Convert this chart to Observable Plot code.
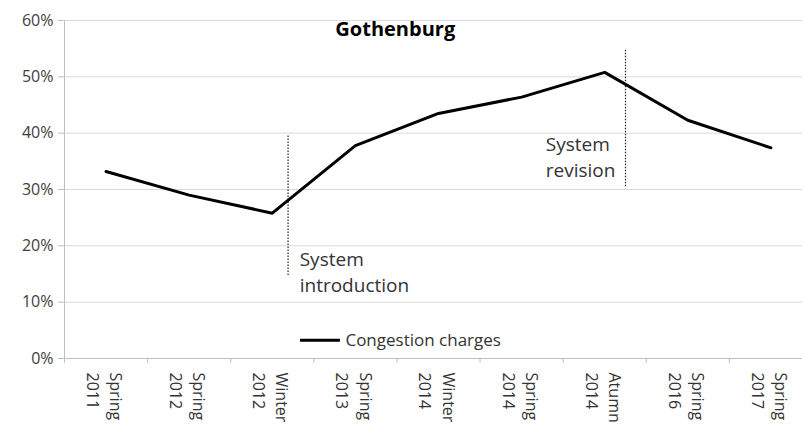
<!DOCTYPE html>
<html>
<head>
<meta charset="utf-8">
<script src="https://cdn.jsdelivr.net/npm/d3@7"></script>
<script src="https://cdn.jsdelivr.net/npm/@observablehq/plot@0.6"></script>
<style>
  html, body { margin: 0; padding: 0; background: #fff; }
  #chart svg { display: block; }
</style>
</head>
<body>
<div id="chart"></div>
<script>
// Data
const seasons = ["Spring", "Spring", "Winter", "Spring", "Winter", "Spring", "Atumn", "Spring", "Spring"];
const years   = ["2011", "2012", "2012", "2013", "2014", "2014", "2014", "2016", "2017"];
const congestionCharges = [0.332, 0.290, 0.258, 0.378, 0.435, 0.464, 0.508, 0.423, 0.374];
const yTicks = [0, 0.1, 0.2, 0.3, 0.4, 0.5, 0.6];
const chartTitle = "Gothenburg";
const seriesName = "Congestion charges";

const periods = seasons.map((s, i) => ({i, label: s + "\n" + years[i], value: congestionCharges[i]}));
const boundaries = d3.range(-0.5, periods.length, 1);

// Annotations (event markers between survey periods)
const events = [
  {x: 2.19, y1: 0.395, y2: 0.147, label: "System\nintroduction", tx: 2.33, ty: 0.197},
  {x: 6.25, y1: 0.547, y2: 0.302, label: "System\nrevision", tx: 5.29, ty: 0.402}
];

const font = "'Open Sans', sans-serif";

const chart = Plot.plot({
  width: 802,
  height: 425,
  marginTop: 20,
  marginBottom: 67,
  marginLeft: 64,
  marginRight: 0,
  style: {fontFamily: font, background: "#fff", color: "#404040"},
  x: {type: "linear", domain: [-0.5, periods.length - 0.5], range: [64, 812], axis: null},
  y: {domain: [0, 0.6], axis: null},
  marks: [
    Plot.gridY(yTicks, {stroke: "#d9d9d9", strokeOpacity: 1, strokeWidth: 1}),
    Plot.ruleY([0], {stroke: "#bfbfbf", strokeWidth: 1}),
    Plot.ruleX([-0.5], {y1: 0.6, y2: 0, stroke: "#bfbfbf", strokeWidth: 1, insetBottom: -5}),
    Plot.axisY(yTicks, {
      tickFormat: d3.format(".0%"), tickSize: 6, tickPadding: 5,
      stroke: "#bfbfbf", fill: "#404040", fontSize: 16, anchor: "left"
    }),
    Plot.axisX(boundaries, {tickFormat: () => "", tickSize: 5, stroke: "#bfbfbf", anchor: "bottom"}),
    Plot.text(periods, {
      x: "i", y: () => 0, text: "label", rotate: 90, textAnchor: "start",
      lineAnchor: "middle", lineHeight: 1.45, dy: 14, fontSize: 16, fill: "#333"
    }),
    Plot.ruleX(events, {x: "x", y1: "y1", y2: "y2", stroke: "#222", strokeWidth: 1.2, strokeDasharray: "1.5,1.5"}),
    Plot.text(events, {
      x: "tx", y: "ty", text: "label", textAnchor: "start",
      lineAnchor: "top", lineHeight: 1.38, fontSize: 19, fill: "#333"
    }),
    Plot.line(periods, {x: "i", y: "value", stroke: "#000", strokeWidth: 3, strokeLinejoin: "round"}),
    Plot.text([chartTitle], {x: () => 3.48, y: () => 0.583, text: d => d, fontSize: 20, fontWeight: "bold", fill: "#000", lineAnchor: "middle"}),
    Plot.ruleY([seriesName], {y: () => 0.0325, x1: () => 2.34, x2: () => 2.82, stroke: "#000", strokeWidth: 3}),
    Plot.text([seriesName], {x: () => 2.82, y: () => 0.0325, text: d => d, dx: 5, textAnchor: "start", lineAnchor: "middle", fontSize: 17, fill: "#333"})
  ]
});

document.getElementById("chart").appendChild(chart);
</script>
</body>
</html>
